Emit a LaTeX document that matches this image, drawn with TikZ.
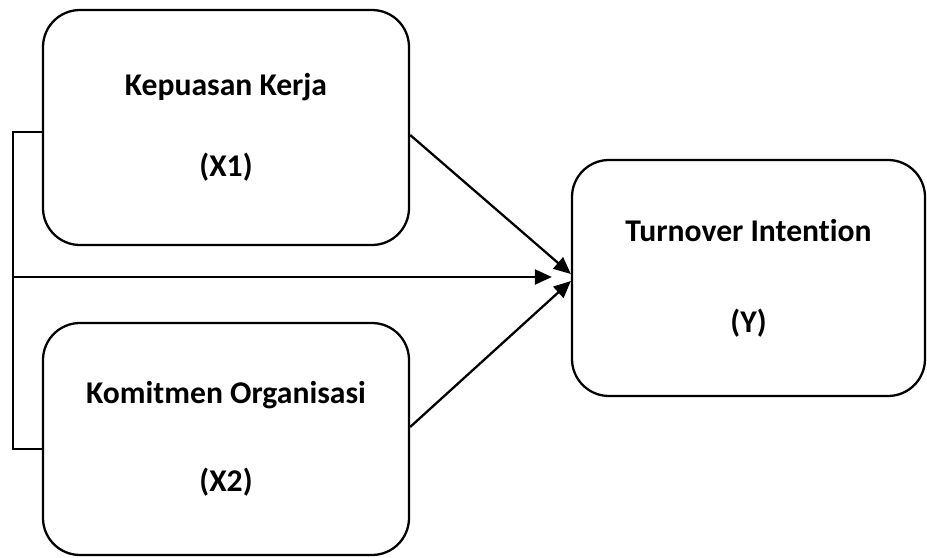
\documentclass[tikz,border=0pt]{standalone}
\usepackage{fontspec}
\setmainfont{Carlito}[Ligatures=NoCommon]
\usetikzlibrary{arrows.meta,calc}

\begin{document}
\begin{tikzpicture}[every node/.style = {draw = black, line width = 1.3pt, rounded corners = 0.74cm, align = center, font = \fontsize{18}{46}\selectfont\bfseries}, line width = 1.3pt, >={Triangle[length=0.34cm, width=0.3cm]}]
	\useasboundingbox (0,0) rectangle (18.54,11.14);

	\node (X1) at ( 4.52, 8.59) [minimum width = 7.32cm, minimum height = 4.7cm]  {Kepuasan Kerja \\ (X1)};
	\node (X2) at ( 4.52, 2.36) [minimum width = 7.32cm, minimum height = 4.64cm] {Komitmen Organisasi \\[4pt] (X2)};
	\node (Y)  at (14.97, 5.58) [minimum width = 7.06cm, minimum height = 4.72cm] {Turnover Intention \\[6pt] (Y)};

	\coordinate (bt)  at (0.26, 8.5);
	\coordinate (bb)  at (0.26, 2.16);
	\coordinate (bm)  at (0.26, 5.6);
	\coordinate (tip) at ($(Y.west)+(-0.38,0.02)$);

	\draw (bt -| X1.west) -- (bt) -- (bb) -- (bb -| X2.west);
	\draw[->] (bm) -- (bm -| tip);

	\foreach \from/\dy/\to in {X1/-0.15/0.08, X2/0.24/-0.06}
		\draw[->] ($(\from.east)+(0,\dy)$) -- ($(Y.west)+(0,\to)$);
\end{tikzpicture}
\end{document}
